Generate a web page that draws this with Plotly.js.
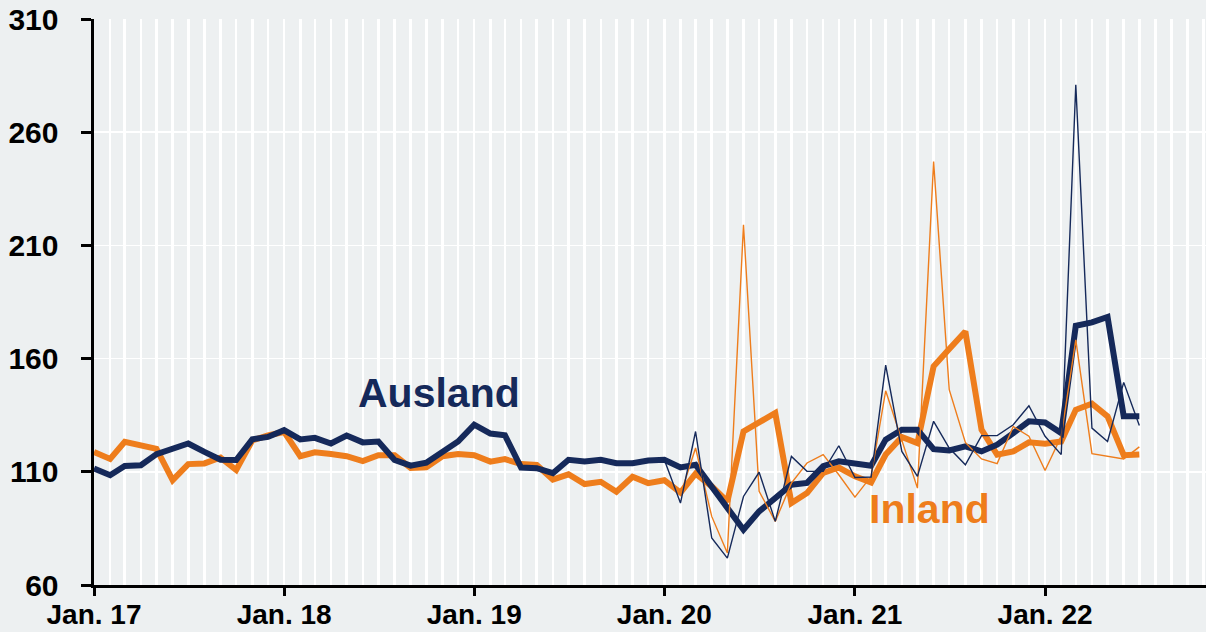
<!DOCTYPE html>
<html>
<head>
<meta charset="utf-8">
<script src="https://cdn.plot.ly/plotly-3.0.1.min.js"></script>
<style>
  html, body { margin: 0; padding: 0; background: #edf0f1; }
  #chart { width: 1206px; height: 632px; }
</style>
</head>
<body>
<div id="chart"></div>
<script>
const months = [
  '2017-01-01','2017-02-01','2017-03-01','2017-04-01','2017-05-01','2017-06-01','2017-07-01','2017-08-01','2017-09-01','2017-10-01','2017-11-01','2017-12-01',
  '2018-01-01','2018-02-01','2018-03-01','2018-04-01','2018-05-01','2018-06-01','2018-07-01','2018-08-01','2018-09-01','2018-10-01','2018-11-01','2018-12-01',
  '2019-01-01','2019-02-01','2019-03-01','2019-04-01','2019-05-01','2019-06-01','2019-07-01','2019-08-01','2019-09-01','2019-10-01','2019-11-01','2019-12-01',
  '2020-01-01','2020-02-01','2020-03-01','2020-04-01','2020-05-01','2020-06-01','2020-07-01','2020-08-01','2020-09-01','2020-10-01','2020-11-01','2020-12-01',
  '2021-01-01','2021-02-01','2021-03-01','2021-04-01','2021-05-01','2021-06-01','2021-07-01','2021-08-01','2021-09-01','2021-10-01','2021-11-01','2021-12-01',
  '2022-01-01','2022-02-01','2022-03-01','2022-04-01','2022-05-01','2022-06-01','2022-07-01'
];
const monthsMonthly = [
  '2020-01-01','2020-02-01','2020-03-01','2020-04-01','2020-05-01','2020-06-01','2020-07-01','2020-08-01','2020-09-01','2020-10-01','2020-11-01','2020-12-01',
  '2021-01-01','2021-02-01','2021-03-01','2021-04-01','2021-05-01','2021-06-01','2021-07-01','2021-08-01','2021-09-01','2021-10-01','2021-11-01','2021-12-01',
  '2022-01-01','2022-02-01','2022-03-01','2022-04-01','2022-05-01','2022-06-01','2022-07-01'
];
// Thick lines (smoothed)
const auslandTrend = [
  111.5,108.5,112.6,112.9,117.8,119.9,122.5,118.8,115.3,115.2,124.4,125.4,
  128.4,124.3,125.0,122.5,126.0,123.0,123.4,115.2,112.7,114.0,118.9,123.4,
  130.8,126.9,126.1,111.9,111.6,109.4,115.3,114.6,115.3,113.8,113.8,115.0,
  115.3,111.9,113.1,103.6,94.0,84.4,92.5,98.4,104.3,105.1,112.5,114.6,
  113.8,112.7,124.2,128.6,128.6,120.0,119.4,121.2,119.0,122.0,127.1,132.3,
  131.8,127.1,174.5,176.0,178.4,134.5,134.5
];
const inlandTrend = [
  118.8,115.7,123.2,121.3,120.1,106.3,113.4,113.7,116.3,110.8,123.9,126.1,
  127.6,116.9,118.6,117.9,116.9,114.7,117.3,117.3,111.7,112.0,116.9,117.9,
  117.3,114.5,115.6,113.4,113.0,106.6,108.9,104.6,105.6,101.2,107.8,105.0,
  106.3,100.8,109.2,103.6,96.9,127.8,131.8,136.0,96.2,100.6,109.5,111.9,
  108.0,105.3,117.6,125.4,122.7,156.6,164.2,172.0,128.6,117.6,119.0,123.0,
  122.4,123.4,137.4,140.1,134.5,117.3,117.6
];
// Thin lines (monthly)
const auslandMonthly = [
  115.3,96.2,127.8,80.8,71.9,99.1,109.8,88.1,116.8,110.2,110.2,121.5,
  107.5,107.7,157.1,119.0,108.0,132.3,120.5,113.1,126.0,126.0,130.8,139.2,
  125.7,117.6,281.0,129.3,123.4,149.5,130.4
];
const inlandMonthly = [
  106.3,99.9,120.5,90.3,74.1,219.1,101.4,88.1,105.0,113.9,117.6,108.7,
  98.8,108.0,145.8,124.2,102.8,247.0,146.3,123.0,115.7,113.6,130.0,125.7,
  110.6,125.7,168.3,118.0,116.8,115.7,121.0
];
const yTicks = [60,110,160,210,260,310];
const seriesLabels = ['Ausland','Inland'];

const navy = '#15295a';
const orange = '#ee7d1c';
const fontFam = '"Liberation Sans", Arial, sans-serif';

const traces = [
  {x: months, y: inlandTrend, mode: 'lines', line: {color: orange, width: 6}, name: 'Inland'},
  {x: months, y: auslandTrend, mode: 'lines', line: {color: navy, width: 6}, name: 'Ausland'},
  {x: monthsMonthly, y: inlandMonthly, mode: 'lines', line: {color: orange, width: 1.4}, name: 'Inland monatlich'},
  {x: monthsMonthly, y: auslandMonthly, mode: 'lines', line: {color: navy, width: 1.4}, name: 'Ausland monatlich'}
];

const layout = {
  width: 1206, height: 632,
  margin: {l: 94, r: 0, t: 19, b: 47},
  paper_bgcolor: '#edf0f1',
  plot_bgcolor: '#edf0f1',
  showlegend: false,
  font: {family: fontFam, color: '#000', size: 29, weight: 'bold'},
  xaxis: {
    type: 'date',
    range: ['2017-01-01', '2022-11-06'],
    dtick: 'M12',
    tick0: '2017-01-01',
    tickformat: '%b. %y',
    showline: true, linecolor: '#000', linewidth: 3,
    ticks: 'outside', ticklen: 8, tickwidth: 3, tickcolor: '#000',
    ticklabelstandoff: -6,
    showgrid: true, gridcolor: '#ffffff', gridwidth: 2.5,
    minor: {dtick: 'M1', showgrid: true, gridcolor: '#ffffff', gridwidth: 2.5, ticks: ''},
    tickfont: {family: fontFam, size: 28, color: '#000', weight: 'bold'},
    zeroline: false, fixedrange: true
  },
  yaxis: {
    range: [60, 310],
    tickvals: yTicks,
    showline: true, linecolor: '#000', linewidth: 3.5,
    ticks: 'outside', ticklen: 10, tickwidth: 3, tickcolor: '#000',
    ticklabelstandoff: 16,
    showgrid: true, gridcolor: '#ffffff', gridwidth: 1.5,
    tickfont: {family: fontFam, size: 30, color: '#000', weight: 'bold'},
    zeroline: false, fixedrange: true
  },
  annotations: [
    {x: '2018-10-25', y: 145, xref: 'x', yref: 'y', text: seriesLabels[0], showarrow: false,
     font: {family: fontFam, size: 41, color: navy, weight: 'bold'}},
    {x: '2021-05-25', y: 93.7, xref: 'x', yref: 'y', text: seriesLabels[1], showarrow: false,
     font: {family: fontFam, size: 41, color: orange, weight: 'bold'}}
  ]
};

Plotly.newPlot('chart', traces, layout, {staticPlot: true, displayModeBar: false});
</script>
</body>
</html>
